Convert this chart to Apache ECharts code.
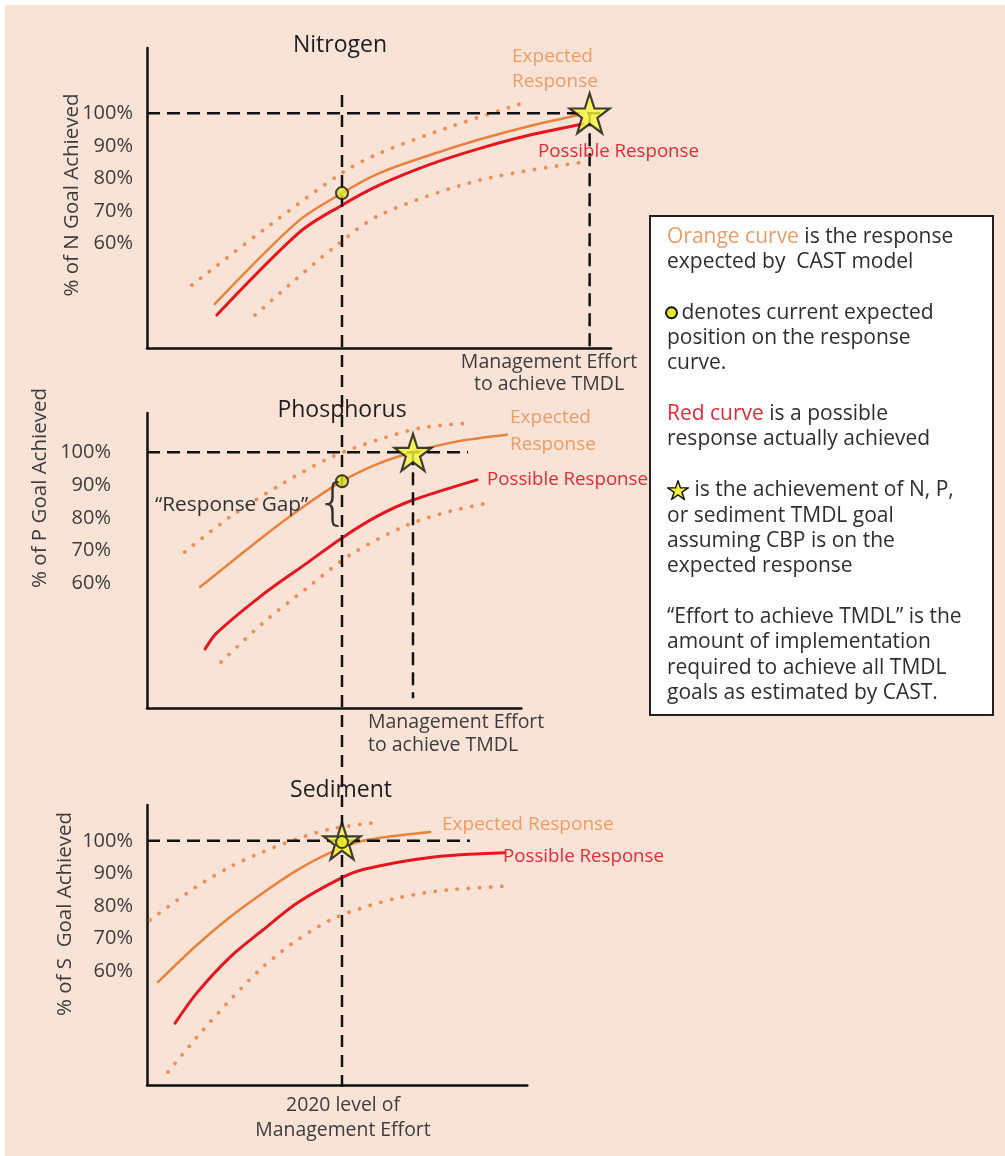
<!DOCTYPE html>
<html><head><meta charset="utf-8">
<script src="https://cdn.jsdelivr.net/npm/echarts@6/dist/echarts.min.js"></script>
<style>html,body{margin:0;padding:0;background:#fff}#c{width:1005px;height:1156px}</style>
</head><body><div id="c"></div><script>
// ---------- data (effort units: 0 = no effort, 50 = 2020 level) ----------
const yTicks = [60, 70, 80, 90, 100];
const effort2020 = 50;

// Nitrogen
const nExpected = [[17.4,41.5],[38.5,66.6],[50,75.5],[59.7,81.7],[72.6,87.2],[85.4,92.0],[98.2,96.1],[110.3,99.4]];
const nPossible = [[17.9,38.1],[39.2,63.6],[50,71.8],[59.7,78.0],[72.6,84.3],[85.4,89.2],[98.2,93.3],[111.8,96.7]];
const nUpper = [[11.5,47.3],[31.5,65.7],[50,81.7],[59.7,87.8],[77.7,95.8],[96.4,103.1]];
const nLower = [[27.7,38.1],[37.9,48.8],[47.7,58.6],[59.7,68.8],[85.4,79.5],[111.8,85.0]];
const nTmdlEffort = 113.5;
const nCurrent = [[50, 75.5]];

// Phosphorus
const pExpected = [[13.6,58.9],[29.7,74.2],[40,83.3],[50,91.2],[59.2,96.5],[68.5,100.2],[80.3,103.5],[92.3,105.4]];
const pPossible = [[14.9,40.0],[17.9,44.9],[29.7,56.6],[41.0,66.2],[50,73.9],[59.2,80.6],[67.9,85.3],[84.6,91.6]];
const pUpper = [[9.7,69.6],[21.3,80.3],[34.1,90.0],[47.4,98.6],[59.2,103.8],[70.0,107.4],[83.3,109.0]];
const pLower = [[19.0,36.0],[29.7,47.9],[41.0,58.6],[52.1,68.7],[66.7,77.8],[77.7,82.0],[88.5,84.8]];
const pTmdlEffort = 68.2;
const pCurrent = [[50, 91.2]];

// Sediment
const sExpected = [[2.8,56.6],[12.8,68.0],[21.3,76.6],[29.7,84.0],[38.5,91.0],[46.9,96.3],[55.4,100.0],[72.6,102.7]];
const sPossible = [[7.2,44.0],[12.8,53.3],[21.3,64.3],[29.7,72.6],[38.5,80.9],[49.5,88.4],[55.4,91.2],[72.6,94.9],[91.8,96.3]];
const sUpper = [[0.8,75.7],[12.8,86.0],[21.3,92.0],[29.7,96.6],[38.5,100.6],[46.9,103.6],[57.9,105.5]];
const sLower = [[5.4,29.0],[12.8,39.7],[21.3,51.1],[29.7,61.2],[38.5,69.5],[48.7,76.6],[64.1,82.4],[76.9,84.9],[93.1,86.1]];
const sTmdlEffort = 50;
const sCurrent = [[50, 99.6]];

// ---------- styles ----------
const ORANGE = '#e8823c', RED = '#e8141e', DOT = '#ee8d55';
const ORANGE_TXT = '#eb9d68', RED_TXT = '#e8293a', INK = '#2a2a2a', LABEL = '#3c3c3c';
const FONT = '"Open Sans", "Noto Sans", sans-serif';
const STAR = 'path://M50,0 L61.8,35.4 L99,35.4 L69,57.3 L80.4,92.7 L50,70.8 L19.6,92.7 L31,57.3 L1,35.4 L38.2,35.4 Z';

const PX = 3.9; // px per effort unit
const panels = [
  {top:48, height:300, min:28, max:120, xmax:119, margin:14},
  {top:413, height:295, min:22, max:112, xmax:96, margin:36},
  {top:805, height:280, min:25, max:111, xmax:97.5, margin:14}
];

const grids = panels.map(p => ({left:147, top:p.top, width:p.xmax*PX, height:p.height, containLabel:false}));
grids.push({left:147, top:92, width:100*PX, height:995});

const xAxes = panels.map((p,i) => ({
  type:'value', gridIndex:i, min:0, max:p.xmax,
  axisLine:{show:true, onZero:false, lineStyle:{color:'#111', width:2.5}},
  axisTick:{show:false}, axisLabel:{show:false}, splitLine:{show:false}
}));
xAxes.push({type:'value', gridIndex:3, min:0, max:100, show:false});

const yAxes = panels.map((p,i) => ({
  type:'value', gridIndex:i, min:p.min, max:p.max,
  axisLine:{show:true, onZero:false, lineStyle:{color:'#111', width:2.5}},
  axisTick:{show:false}, splitLine:{show:false},
  axisLabel:{show:true, customValues:yTicks, formatter:'{value}%', margin:p.margin,
    fontSize:20, fontFamily:FONT, color:LABEL}
}));
yAxes.push({type:'value', gridIndex:3, min:0, max:1, show:false});

function line(i, data, color, width, type, z) {
  return {type:'line', xAxisIndex:i, yAxisIndex:i, data, smooth:0.3, showSymbol:false, silent:true,
    lineStyle:{color, width, type, cap:'round'}, z:z||2};
}
function dotted(i, data) { return line(i, data, DOT, 3.8, [0.1, 11], 2); }
function dashed(i, data) {
  return {type:'line', xAxisIndex:i, yAxisIndex:i, data, showSymbol:false, silent:true,
    lineStyle:{color:'#111', width:2.5, type:[13,7]}, z:3};
}
function star(i, data, size) {
  return {type:'scatter', xAxisIndex:i, yAxisIndex:i, data, symbol:STAR, symbolSize:size, silent:true,
    itemStyle:{color:'#f5f73a', borderColor:'#111', borderWidth:2.2}, z:6};
}
function dot(i, data) {
  return {type:'scatter', xAxisIndex:i, yAxisIndex:i, data, symbol:'circle', symbolSize:12, silent:true,
    itemStyle:{color:'#e6e62a', borderColor:'#111', borderWidth:2}, z:7};
}

const series = [];
// Nitrogen
series.push(dotted(0,nUpper), dotted(0,nLower), line(0,nExpected,ORANGE,2.5), line(0,nPossible,RED,3));
series.push(dashed(0, [[0,100],[117,100]]), dashed(0, [[nTmdlEffort,100],[nTmdlEffort,28]]));
series.push(star(0, [[nTmdlEffort,100]], 40), dot(0, nCurrent));
// Phosphorus
series.push(dotted(1,pUpper), dotted(1,pLower), line(1,pExpected,ORANGE,2.5), line(1,pPossible,RED,3));
series.push(dashed(1, [[0,100],[82.3,100]]), dashed(1, [[pTmdlEffort,100],[pTmdlEffort,25]]));
series.push(star(1, [[pTmdlEffort,100]], 37), dot(1, pCurrent));
// Sediment
series.push(dotted(2,sUpper), dotted(2,sLower), line(2,sExpected,ORANGE,2.5), line(2,sPossible,RED,3));
series.push(dashed(2, [[0,100],[82.8,100]]));
series.push(star(2, [[sTmdlEffort,100]], 37), dot(2, sCurrent));
// 2020 level line across all panels
series.push({type:'line', xAxisIndex:3, yAxisIndex:3, data:[[effort2020,0],[effort2020,1]], showSymbol:false, silent:true,
  lineStyle:{color:'#111', width:2.5, type:[12,8]}, z:4});

function txt(text, x, y, opts) {
  return Object.assign({type:'text', x, y, silent:true, z:10,
    style:Object.assign({text, fontSize:19, fontFamily:FONT, fill:INK, textAlign:'left', textVerticalAlign:'middle'}, opts||{})});
}
function rot(text, x, y) {
  return {type:'text', x, y, rotation:Math.PI/2, silent:true, z:10,
    style:{text, fontSize:20.5, fontFamily:FONT, fill:LABEL, textAlign:'center', textVerticalAlign:'middle'}};
}

const starImg = 'data:image/svg+xml;utf8,' + encodeURIComponent(
  '<svg xmlns="http://www.w3.org/2000/svg" viewBox="-3 -3 106 100"><path d="M50,0 L61.8,35.4 L99,35.4 L69,57.3 L80.4,92.7 L50,70.8 L19.6,92.7 L31,57.3 L1,35.4 L38.2,35.4 Z" fill="#f5f73a" stroke="#111" stroke-width="7"/></svg>');

const legendText = [
  '{o|Orange curve} is the response',
  'expected by  CAST model',
  '',
  '{dot| } denotes current expected',
  'position on the response',
  'curve.',
  '',
  '{r|Red curve} is a possible',
  'response actually achieved',
  '',
  '{star| } is the achievement of N, P,',
  'or sediment TMDL goal',
  'assuming CBP is on the',
  'expected response',
  '',
  '\u201cEffort to achieve TMDL\u201d is the',
  'amount of implementation',
  'required to achieve all TMDL',
  'goals as estimated by CAST.'
].join('\n');

const LH = 25.35, LF = 21;
const graphic = [
  {type:'rect', shape:{x:0,y:0,width:1005,height:5}, style:{fill:'#fff'}, silent:true, z:-1},
  {type:'rect', shape:{x:0,y:0,width:5,height:1156}, style:{fill:'#fff'}, silent:true, z:-1},
  // panel titles
  txt('Nitrogen', 340, 45, {textAlign:'center', fontSize:23, fill:'#1e1e1e'}),
  txt('Phosphorus', 342, 410, {textAlign:'center', fontSize:23, fill:'#1e1e1e'}),
  txt('Sediment', 341, 790, {textAlign:'center', fontSize:23, fill:'#1e1e1e'}),
  // axis titles
  rot('% of N Goal Achieved', 72, 195),
  rot('% of P Goal Achieved', 40, 488),
  rot('% of S  Goal Achieved', 65, 914),
  // nitrogen annotations
  txt('Expected', 512, 57, {fill:ORANGE_TXT}),
  txt('Response', 512, 82, {fill:ORANGE_TXT}),
  txt('Possible Response', 538, 152, {fill:RED_TXT, fontSize:18.7}),
  txt('Management Effort', 549, 362, {textAlign:'center', fontSize:19.5, fill:LABEL}),
  txt('to achieve TMDL', 549, 384, {textAlign:'center', fontSize:19.5, fill:LABEL}),
  // phosphorus annotations
  txt('Expected', 510, 418, {fill:ORANGE_TXT}),
  txt('Response', 510, 445, {fill:ORANGE_TXT}),
  txt('Possible Response', 487, 480, {fill:RED_TXT, fontSize:18.7}),
  txt('\u201cResponse Gap\u201d', 155, 505, {fontSize:20.8, fill:'#333'}),
  txt('{', 317, 506, {fontSize:50, fontWeight:'lighter', fill:'#333', fontFamily:'"DejaVu Sans", sans-serif'}),
  txt('Management Effort', 368, 722, {fontSize:19.5, fill:LABEL}),
  txt('to achieve TMDL', 368, 745, {fontSize:19.5, fill:LABEL}),
  // sediment annotations
  txt('Expected Response', 442, 825, {fill:ORANGE_TXT}),
  txt('Possible Response', 503, 857, {fill:RED_TXT, fontSize:18.7}),
  txt('2020 level of', 343, 1105, {textAlign:'center', fontSize:19.4, fill:LABEL}),
  txt('Management Effort', 343, 1130, {textAlign:'center', fontSize:19.4, fill:LABEL}),
  // explanation box
  {type:'rect', shape:{x:650,y:216,width:343,height:499}, style:{fill:'#fff', stroke:'#222', lineWidth:2}, silent:true, z:5},
  {type:'text', x:667, y:224, silent:true, z:10, style:{
    text:legendText, fontSize:LF, fontFamily:FONT, fill:'#2e2e2e', lineHeight:LH,
    textVerticalAlign:'top',
    rich:{
      o:{fill:ORANGE_TXT, fontSize:LF, fontFamily:FONT, lineHeight:LH},
      r:{fill:RED_TXT, fontSize:LF, fontFamily:FONT, lineHeight:LH},
      dot:{width:9, height:9, backgroundColor:'#e6e62a', borderColor:'#111', borderWidth:2, borderRadius:6, lineHeight:LH},
      star:{width:22, height:20, backgroundColor:{image:starImg}, lineHeight:LH}
    }
  }}
];

const chart = echarts.init(document.getElementById('c'), null, {renderer:'canvas'});
chart.setOption({
  backgroundColor:'#f9e3d6',
  animation:false,
  grid:grids, xAxis:xAxes, yAxis:yAxes, series, graphic
});
</script></body></html>
